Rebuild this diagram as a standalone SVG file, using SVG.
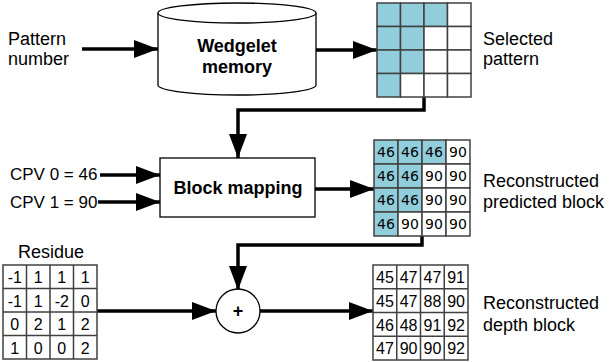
<svg xmlns="http://www.w3.org/2000/svg" width="615" height="362" viewBox="0 0 615 362">
<style>
.lbl{font-family:"Liberation Sans",Arial,sans-serif;font-size:18px;fill:#000}
.bold{font-family:"Liberation Sans",Arial,sans-serif;font-size:18px;font-weight:bold;fill:#000;text-anchor:middle}
.cell{fill:#fff;stroke:#404040;stroke-width:1.5}
.sh{fill:#92CDDC}
.num{font-family:"DejaVu Sans",sans-serif;font-size:14px;fill:#000;text-anchor:middle}
.num2{font-family:"Liberation Sans",Arial,sans-serif;font-size:16px;fill:#000;text-anchor:middle}
.conn{fill:none;stroke:#000;stroke-width:3.5}
.box{fill:#fff;stroke:#000;stroke-width:1.3}
</style>
<defs>
<marker id="ah" markerUnits="userSpaceOnUse" markerWidth="26" markerHeight="20" refX="24" refY="9" orient="auto">
<polygon points="0,0 24,9 0,18" fill="#000"/>
</marker>
</defs>

<g id="connectors">
<line class="conn" x1="82" y1="49" x2="158" y2="49" marker-end="url(#ah)"/>
<line class="conn" x1="316" y1="50" x2="377" y2="50" marker-end="url(#ah)"/>
<polyline class="conn" points="424,97 424,110 238,110 238,158" marker-end="url(#ah)"/>
<line class="conn" x1="100" y1="175" x2="160" y2="175" marker-end="url(#ah)"/>
<line class="conn" x1="98" y1="202" x2="160" y2="202" marker-end="url(#ah)"/>
<line class="conn" x1="315" y1="189" x2="374" y2="189" marker-end="url(#ah)"/>
<polyline class="conn" points="422,236 422,245 238,245 238,290" marker-end="url(#ah)"/>
<line class="conn" x1="97" y1="311" x2="216" y2="311" marker-end="url(#ah)"/>
<line class="conn" x1="260" y1="311" x2="373" y2="311" marker-end="url(#ah)"/>
</g>

<g id="pattern-number">
<text class="lbl" x="8" y="45">Pattern</text>
<text class="lbl" x="8" y="65">number</text>
</g>

<g id="wedgelet-memory">
<path class="box" d="M158,13 A79,10 0 0 1 316,13 V85 A79,10 0 0 1 158,85 Z"/>
<path class="box" fill="none" d="M158,13 A79,10 0 0 0 316,13"/>
<text class="bold" x="237" y="52">Wedgelet</text>
<text class="bold" x="237" y="73">memory</text>
</g>

<g id="selected-pattern">
<g transform="translate(377,3)">
<rect class="cell" x="0" y="0" width="23.5" height="23.5" style="fill:#92CDDC"/>
<rect class="cell" x="23.5" y="0" width="23.5" height="23.5" style="fill:#92CDDC"/>
<rect class="cell" x="47" y="0" width="23.5" height="23.5" style="fill:#92CDDC"/>
<rect class="cell" x="70.5" y="0" width="23.5" height="23.5"/>
<rect class="cell" x="0" y="23.5" width="23.5" height="23.5" style="fill:#92CDDC"/>
<rect class="cell" x="23.5" y="23.5" width="23.5" height="23.5" style="fill:#92CDDC"/>
<rect class="cell" x="47" y="23.5" width="23.5" height="23.5"/>
<rect class="cell" x="70.5" y="23.5" width="23.5" height="23.5"/>
<rect class="cell" x="0" y="47" width="23.5" height="23.5" style="fill:#92CDDC"/>
<rect class="cell" x="23.5" y="47" width="23.5" height="23.5" style="fill:#92CDDC"/>
<rect class="cell" x="47" y="47" width="23.5" height="23.5"/>
<rect class="cell" x="70.5" y="47" width="23.5" height="23.5"/>
<rect class="cell" x="0" y="70.5" width="23.5" height="23.5" style="fill:#92CDDC"/>
<rect class="cell" x="23.5" y="70.5" width="23.5" height="23.5"/>
<rect class="cell" x="47" y="70.5" width="23.5" height="23.5"/>
<rect class="cell" x="70.5" y="70.5" width="23.5" height="23.5"/>
</g>
<text class="lbl" x="483" y="45">Selected</text>
<text class="lbl" x="483" y="65">pattern</text>
</g>

<g id="cpv-labels">
<text class="lbl" x="10" y="180" style="font-size:17px">CPV 0 = 46</text>
<text class="lbl" x="10" y="208" style="font-size:17px">CPV 1 = 90</text>
</g>

<g id="block-mapping">
<rect class="box" x="160" y="158" width="155" height="59"/>
<text class="bold" x="238" y="194">Block mapping</text>
</g>

<g id="predicted-block">
<g transform="translate(374,140)">
<rect class="cell" x="0" y="0" width="24" height="24" style="fill:#92CDDC"/>
<rect class="cell" x="24" y="0" width="24" height="24" style="fill:#92CDDC"/>
<rect class="cell" x="48" y="0" width="24" height="24" style="fill:#92CDDC"/>
<rect class="cell" x="72" y="0" width="24" height="24"/>
<rect class="cell" x="0" y="24" width="24" height="24" style="fill:#92CDDC"/>
<rect class="cell" x="24" y="24" width="24" height="24" style="fill:#92CDDC"/>
<rect class="cell" x="48" y="24" width="24" height="24"/>
<rect class="cell" x="72" y="24" width="24" height="24"/>
<rect class="cell" x="0" y="48" width="24" height="24" style="fill:#92CDDC"/>
<rect class="cell" x="24" y="48" width="24" height="24" style="fill:#92CDDC"/>
<rect class="cell" x="48" y="48" width="24" height="24"/>
<rect class="cell" x="72" y="48" width="24" height="24"/>
<rect class="cell" x="0" y="72" width="24" height="24" style="fill:#92CDDC"/>
<rect class="cell" x="24" y="72" width="24" height="24"/>
<rect class="cell" x="48" y="72" width="24" height="24"/>
<rect class="cell" x="72" y="72" width="24" height="24"/>
<text class="num" x="12" y="17">46</text><text class="num" x="36" y="17">46</text><text class="num" x="60" y="17">46</text><text class="num" x="84" y="17">90</text>
<text class="num" x="12" y="41">46</text><text class="num" x="36" y="41">46</text><text class="num" x="60" y="41">90</text><text class="num" x="84" y="41">90</text>
<text class="num" x="12" y="65">46</text><text class="num" x="36" y="65">46</text><text class="num" x="60" y="65">90</text><text class="num" x="84" y="65">90</text>
<text class="num" x="12" y="89">46</text><text class="num" x="36" y="89">90</text><text class="num" x="60" y="89">90</text><text class="num" x="84" y="89">90</text>
</g>
<text class="lbl" x="483" y="187">Reconstructed</text>
<text class="lbl" x="483" y="208">predicted block</text>
</g>

<g id="residue">
<text class="lbl" x="51" y="258" text-anchor="middle">Residue</text>
<g transform="translate(3,265)">
<rect class="cell" x="0" y="0" width="94" height="94"/>
<path d="M23.5,0V94M47,0V94M70.5,0V94M0,23.5H94M0,47H94M0,70.5H94" stroke="#404040" stroke-width="1.5"/>
<text class="num2" x="11.75" y="18">-1</text><text class="num2" x="35.25" y="18">1</text><text class="num2" x="58.75" y="18">1</text><text class="num2" x="82.25" y="18">1</text>
<text class="num2" x="11.75" y="41.5">-1</text><text class="num2" x="35.25" y="41.5">1</text><text class="num2" x="58.75" y="41.5">-2</text><text class="num2" x="82.25" y="41.5">0</text>
<text class="num2" x="11.75" y="65">0</text><text class="num2" x="35.25" y="65">2</text><text class="num2" x="58.75" y="65">1</text><text class="num2" x="82.25" y="65">2</text>
<text class="num2" x="11.75" y="88.5">1</text><text class="num2" x="35.25" y="88.5">0</text><text class="num2" x="58.75" y="88.5">0</text><text class="num2" x="82.25" y="88.5">2</text>
</g>
</g>

<g id="adder">
<circle cx="238" cy="311" r="22" fill="#fff" stroke="#000" stroke-width="1.3"/>
<text x="238" y="317" style="font-family:'Liberation Sans',Arial,sans-serif;font-size:18px;font-weight:bold;text-anchor:middle">+</text>
</g>

<g id="depth-block">
<g transform="translate(373,265)">
<rect class="cell" x="0" y="0" width="95" height="95"/>
<path d="M23.75,0V95M47.5,0V95M71.25,0V95M0,23.75H95M0,47.5H95M0,71.25H95" stroke="#404040" stroke-width="1.5"/>
<text class="num2" x="11.9" y="18">45</text><text class="num2" x="35.6" y="18">47</text><text class="num2" x="59.4" y="18">47</text><text class="num2" x="83.1" y="18">91</text>
<text class="num2" x="11.9" y="41.7">45</text><text class="num2" x="35.6" y="41.7">47</text><text class="num2" x="59.4" y="41.7">88</text><text class="num2" x="83.1" y="41.7">90</text>
<text class="num2" x="11.9" y="65.5">46</text><text class="num2" x="35.6" y="65.5">48</text><text class="num2" x="59.4" y="65.5">91</text><text class="num2" x="83.1" y="65.5">92</text>
<text class="num2" x="11.9" y="89.2">47</text><text class="num2" x="35.6" y="89.2">90</text><text class="num2" x="59.4" y="89.2">90</text><text class="num2" x="83.1" y="89.2">92</text>
</g>
<text class="lbl" x="483" y="309">Reconstructed</text>
<text class="lbl" x="483" y="331">depth block</text>
</g>
</svg>
